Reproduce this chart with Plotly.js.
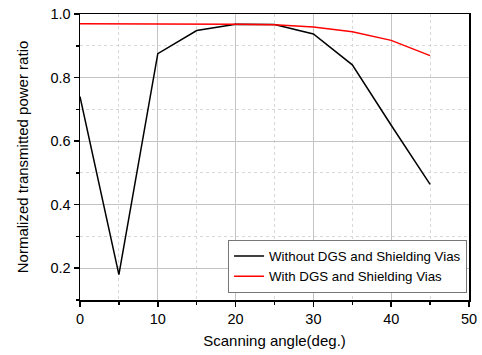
<!DOCTYPE html>
<html><head><meta charset="utf-8">
<script src="https://cdn.plot.ly/plotly-3.0.1.min.js"></script>
<style>html,body{margin:0;padding:0;background:#fff}#c{width:482px;height:355px}</style>
</head><body><div id="c"></div>
<script>
const angle = [0, 5, 10, 15, 20, 25, 30, 35, 40, 45];
const withoutDGS = [0.74, 0.18, 0.875, 0.948, 0.968, 0.967, 0.937, 0.84, 0.65, 0.464];
const withDGS = [0.969, 0.969, 0.969, 0.969, 0.968, 0.966, 0.959, 0.944, 0.917, 0.869];
const names = ["Without DGS and Shielding Vias", "With DGS and Shielding Vias"];

const font = {family: "Liberation Sans, Arial, sans-serif", color: "#000"};
const data = [
  {x: angle, y: withoutDGS, mode: "lines", name: names[0], line: {color: "#000", width: 1.5}},
  {x: angle, y: withDGS, mode: "lines", name: names[1], line: {color: "#ff0000", width: 1.5}}
];
const layout = {
  width: 482, height: 355,
  margin: {l: 80, r: 13, t: 14, b: 55},
  paper_bgcolor: "#fff", plot_bgcolor: "#fff",
  font: Object.assign({size: 14}, font),
  showlegend: true,
  legend: {x: 0.995, y: 0.025, xanchor: "right", yanchor: "bottom", bgcolor: "#fff",
    bordercolor: "#777", borderwidth: 1, font: Object.assign({size: 13.3}, font),
    tracegroupgap: 0, itemwidth: 30},
  xaxis: {
    range: [0, 50], tickvals: [0, 10, 20, 30, 40, 50], ticks: "outside", ticklen: 5, tickwidth: 1.5,
    tickcolor: "#000", showline: true, linecolor: "#000", linewidth: 1.5, mirror: true,
    showgrid: true, gridcolor: "#c4c4c4", gridwidth: 1, zeroline: false,
    minor: {dtick: 5, tick0: 0, ticks: "outside", ticklen: 3, tickcolor: "#000", showgrid: true, gridcolor: "#d8d8d8", griddash: "dot"},
    tickfont: Object.assign({size: 14.5}, font),
    title: {text: "Scanning angle(deg.)", font: Object.assign({size: 15}, font), standoff: 9}
  },
  yaxis: {
    range: [0.1, 1.0], tickvals: [0.2, 0.4, 0.6, 0.8, 1.0], ticktext: ["0.2", "0.4", "0.6", "0.8", "1.0"],
    ticks: "outside", ticklen: 5, tickwidth: 1.5,
    tickcolor: "#000", showline: true, linecolor: "#000", linewidth: 1.5, mirror: true,
    showgrid: true, gridcolor: "#c4c4c4", gridwidth: 1, zeroline: false,
    minor: {dtick: 0.1, tick0: 0, ticks: "outside", ticklen: 3, tickcolor: "#000", showgrid: true, gridcolor: "#d8d8d8", griddash: "dot"},
    tickfont: Object.assign({size: 14.5}, font),
    title: {text: "Normalized transmitted power ratio", font: Object.assign({size: 15}, font), standoff: 18}
  }
};
Plotly.newPlot("c", data, layout, {displayModeBar: false, staticPlot: true});
</script></body></html>
